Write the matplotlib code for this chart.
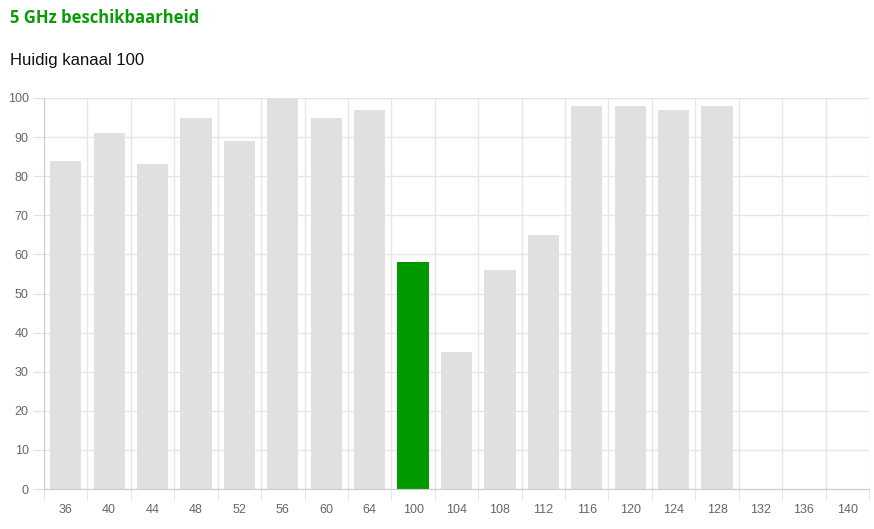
import matplotlib.pyplot as plt
import numpy as np

# Channel availability (5 GHz)
channels = ["36", "40", "44", "48", "52", "56", "60", "64", "100", "104",
            "108", "112", "116", "120", "124", "128", "132", "136", "140"]
availability = [84, 91, 83, 95, 89, 100, 95, 97, 58, 35,
                56, 65, 98, 98, 97, 98, 0, 0, 0]
current_channel = "100"
y_ticks = [0, 10, 20, 30, 40, 50, 60, 70, 80, 90, 100]

W, H = 874, 529
fig = plt.figure(figsize=(W / 100, H / 100), dpi=100)
ax = fig.add_axes([44 / W, 1 - 489 / H, 825 / W, (489 - 98) / H])

colors = ["#009900" if c == current_channel else "#e0e0e0" for c in channels]
x = np.arange(len(channels))
ax.bar(x, availability, width=0.72, color=colors, zorder=2)

ax.set_xlim(-0.5, len(channels) - 0.5)
ax.set_ylim(0, 100)
ax.set_yticks(y_ticks)
ax.set_xticks(x)
ax.set_xticklabels(channels)

# grid lines on category boundaries and y ticks
ax.set_xticks(np.arange(len(channels) + 1) - 0.5, minor=True)
ax.grid(True, which="minor", axis="x", color="#e6e6e6", linewidth=1, zorder=0)
ax.grid(True, which="major", axis="y", color="#e6e6e6", linewidth=1, zorder=0)
ax.tick_params(axis="x", which="major", length=0, pad=11, labelsize=9,
               labelcolor="#666666")
ax.tick_params(axis="x", which="minor", length=8, color="#e0e0e0")
ax.tick_params(axis="y", length=8, color="#e0e0e0", labelsize=9,
               labelcolor="#666666", pad=3)
for lab in ax.get_xticklabels() + ax.get_yticklabels():
    lab.set_family("Liberation Sans")

for side in ["top", "right"]:
    ax.spines[side].set_visible(False)
for side in ["left", "bottom"]:
    ax.spines[side].set_color("#cccccc")

fig.text(10 / W, 1 - 18 / H, "5 GHz beschikbaarheid", color="#0a9a0a",
         fontsize=12, fontweight="bold", family="Open Sans", va="center")
fig.text(10 / W, 1 - 60 / H, "Huidig kanaal 100", color="#111111",
         fontsize=12, family="Liberation Sans", va="center")

fig.savefig("out.png", dpi=100)
